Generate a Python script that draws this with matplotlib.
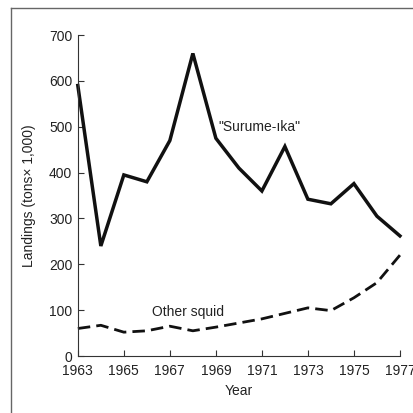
import matplotlib.pyplot as plt
from matplotlib.lines import Line2D

years = list(range(1963, 1978))
surume = [590, 240, 395, 380, 470, 660, 475, 410, 360, 457, 342, 332, 376, 305, 262]
other = [60, 67, 52, 55, 65, 55, 63, 72, 81, 93, 105, 99, 127, 160, 220]
xticks = list(range(1963, 1978, 2))
yticks = list(range(0, 701, 100))

plt.rcParams['font.family'] = ['Liberation Sans', 'DejaVu Sans']

fig = plt.figure(figsize=(4.14, 4.13), dpi=100)
ax = fig.add_axes([0.188, 0.138, 0.778, 0.777])

ax.plot(years, surume, color='#111111', lw=2.5, clip_on=False, solid_joinstyle='miter')
ax.plot(years, other, color='#111111', lw=2.0, dashes=(4.5, 2.2), clip_on=False)

ax.set_xlim(1963, 1977)
ax.set_ylim(0, 700)
ax.set_xticks(xticks)
ax.set_yticks(yticks)
ax.tick_params(direction='in', length=4, width=0.8, labelsize=10, color='#333333',
               labelcolor='#222222')
ax.tick_params(axis='x', pad=6)
ax.tick_params(axis='y', pad=4)
for s in ['top', 'right']:
    ax.spines[s].set_visible(False)
for s in ['left', 'bottom']:
    ax.spines[s].set_linewidth(0.8)
    ax.spines[s].set_color('#333333')

ax.set_xlabel('Year', fontsize=10, color='#222222', labelpad=4)
ax.set_ylabel('Landings (tons× 1,000)', fontsize=10, color='#222222', labelpad=9)

ax.text(1969.1, 500, '"Surume-ıka"', fontsize=10, color='#222222', va='center', ha='left')
ax.text(1967.8, 96, 'Other squid', fontsize=10, color='#222222', va='center', ha='center')

# scanned page frame
fig.add_artist(Line2D([11 / 414, 1], [1 - 8 / 413] * 2, color='#666666', lw=1))
fig.add_artist(Line2D([11 / 414] * 2, [0, 1 - 8 / 413], color='#666666', lw=1))

fig.savefig('out.png', dpi=100)
